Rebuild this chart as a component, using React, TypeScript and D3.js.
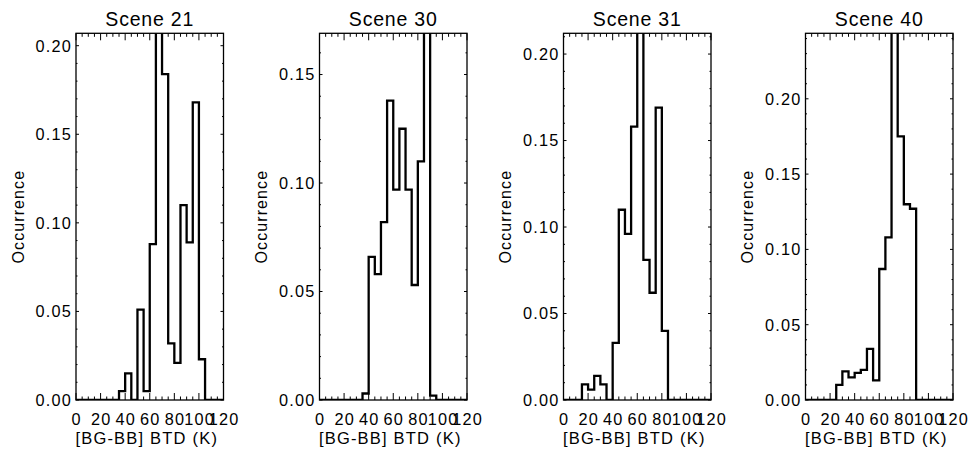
import React from 'react';
import * as d3 from 'd3';

const sceneTitles = ['Scene 21', 'Scene 30', 'Scene 31', 'Scene 40'];
const binStarts = [0, 5, 10, 15, 20, 25, 30, 35, 40, 45, 50, 55, 60, 65, 70, 75, 80, 85, 90, 95, 100, 105, 110, 115];
const scene21 = [0, 0, 0, 0, 0, 0, 0, 0.005, 0.015, 0, 0.051, 0.005, 0.088, 0.23, 0.184, 0.032, 0.021, 0.110, 0.089, 0.168, 0.023, 0, 0, 0];
const scene30 = [0, 0, 0, 0, 0, 0, 0, 0.003, 0.066, 0.058, 0.082, 0.138, 0.097, 0.125, 0.097, 0.053, 0.110, 0.2, 0.002, 0, 0, 0, 0, 0];
const scene31 = [0, 0, 0, 0.009, 0.006, 0.014, 0.009, 0, 0.033, 0.110, 0.096, 0.158, 0.25, 0.081, 0.062, 0.169, 0.040, 0, 0, 0, 0, 0, 0, 0];
const scene40 = [0, 0, 0, 0, 0, 0.010, 0.019, 0.015, 0.018, 0.020, 0.034, 0.013, 0.087, 0.108, 0.28, 0.175, 0.130, 0.127, 0, 0, 0, 0, 0, 0];
const sceneValues = [scene21, scene30, scene31, scene40];
const yMaxes = [0.207, 0.169, 0.212, 0.2435];
const xTickValues = [0, 20, 40, 60, 80, 100, 120];
const yTickValues = [
  [0, 0.05, 0.1, 0.15, 0.2],
  [0, 0.05, 0.1, 0.15],
  [0, 0.05, 0.1, 0.15, 0.2],
  [0, 0.05, 0.1, 0.15, 0.2],
];
const xLabel = '[BG-BB] BTD (K)';
const yLabel = 'Occurrence';

const panelLefts = [76, 319.5, 563.5, 805.5];
const panelWidth = 147.5;
const top = 33.3;
const bottom = 400;
const font = 'Liberation Sans, Arial, sans-serif';

function Panel({ idx }: { idx: number }) {
  const left = panelLefts[idx];
  const right = left + panelWidth;
  const x = d3.scaleLinear().domain([0, 120]).range([left, right]);
  const y = d3.scaleLinear().domain([0, yMaxes[idx]]).range([bottom, top]);
  const vals = sceneValues[idx];
  const pts: [number, number][] = binStarts.map((b, i) => [b, vals[i]]);
  pts.push([120, vals[vals.length - 1]]);
  const line = d3
    .line<[number, number]>()
    .x((d) => x(d[0]))
    .y((d) => y(d[1]))
    .curve(d3.curveStepAfter);
  const xMinor = d3.range(0, 121, 5);
  const yMinor = d3.range(0, yMaxes[idx] + 1e-9, 0.01);
  const clipId = `clip${idx}`;
  const cx = (left + right) / 2;
  return (
    <g>
      <defs>
        <clipPath id={clipId}>
          <rect x={left} y={top} width={panelWidth} height={bottom - top} />
        </clipPath>
      </defs>
      <text x={cx} y={26} textAnchor="middle" fontFamily={font} fontSize={19.5} letterSpacing={0.8}>
        {sceneTitles[idx]}
      </text>
      <path d={line(pts) || ''} fill="none" stroke="#000" strokeWidth={2.3} clipPath={`url(#${clipId})`} strokeLinejoin="miter" />
      <rect x={left} y={top} width={panelWidth} height={bottom - top} fill="none" stroke="#000" strokeWidth={1.3} />
      {xMinor.map((v) => {
        const major = v % 20 === 0;
        const len = major ? 7 : 3.5;
        return (
          <g key={'xm' + v}>
            <line x1={x(v)} x2={x(v)} y1={bottom} y2={bottom - len} stroke="#000" strokeWidth={1} />
            <line x1={x(v)} x2={x(v)} y1={top} y2={top + len} stroke="#000" strokeWidth={1} />
          </g>
        );
      })}
      {yMinor.map((v, i) => {
        const major = i % 5 === 0;
        const len = major ? 3 : 1.5;
        return (
          <g key={'ym' + i}>
            <line x1={left} x2={left + len} y1={y(v)} y2={y(v)} stroke="#000" strokeWidth={1} />
            <line x1={right} x2={right - len} y1={y(v)} y2={y(v)} stroke="#000" strokeWidth={1} />
          </g>
        );
      })}
      {xTickValues.map((v) => (
        <text key={'xl' + v} x={x(v) + 0.6} y={425} textAnchor="middle" fontFamily={font} fontSize={16.3} letterSpacing={1.2}>
          {String(v)}
        </text>
      ))}
      {yTickValues[idx].map((v) => (
        <text key={'yl' + v} x={left - 4} y={y(v)} dy="0.36em" textAnchor="end" fontFamily={font} fontSize={16.3} letterSpacing={1.2}>
          {v.toFixed(2)}
        </text>
      ))}
      <text x={cx - 3} y={444} textAnchor="middle" fontFamily={font} fontSize={16.5} letterSpacing={1.2}>
        {xLabel}
      </text>
      <text
        transform={`translate(${left - 58},${(top + bottom) / 2}) rotate(-90)`}
        textAnchor="middle"
        dy="0.36em"
        fontFamily={font}
        fontSize={16}
        letterSpacing={1.1}
      >
        {yLabel}
      </text>
    </g>
  );
}

export default function App() {
  return (
    <svg
      width={968}
      height={449}
      style={{ position: 'absolute', left: 0, top: 0, background: '#fff' }}
    >
      {[0, 1, 2, 3].map((i) => (
        <Panel key={i} idx={i} />
      ))}
    </svg>
  );
}
